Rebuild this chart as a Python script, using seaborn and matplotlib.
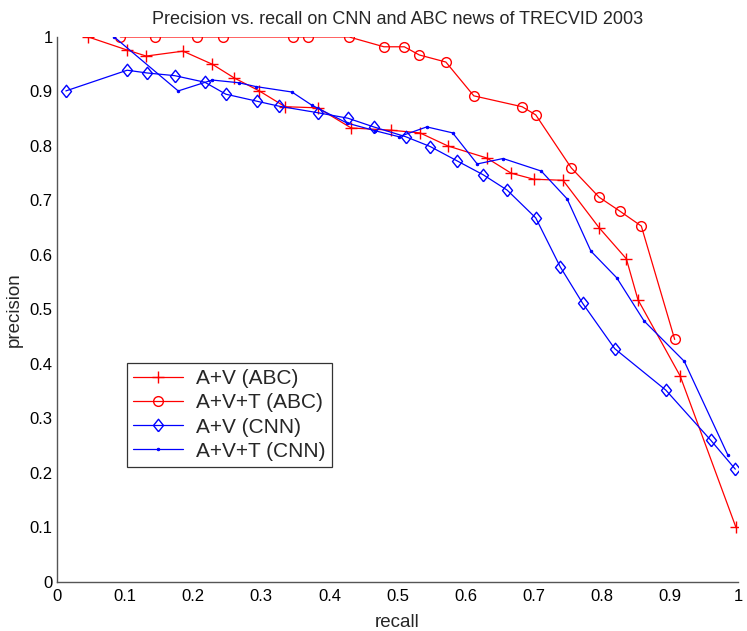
import matplotlib
matplotlib.use("Agg")
import matplotlib.pyplot as plt
import seaborn as sns
import pandas as pd

abc_av_recall = [0.046, 0.103, 0.131, 0.185, 0.228, 0.260, 0.297, 0.335, 0.383, 0.432, 0.490,
                 0.533, 0.574, 0.631, 0.667, 0.700, 0.743, 0.796, 0.836, 0.853, 0.915, 0.997]
abc_av_prec = [1.000, 0.976, 0.965, 0.974, 0.950, 0.925, 0.901, 0.872, 0.870, 0.833, 0.829,
               0.824, 0.800, 0.778, 0.750, 0.739, 0.737, 0.650, 0.593, 0.518, 0.378, 0.100]

abc_avt_recall = [0.093, 0.144, 0.205, 0.244, 0.347, 0.368, 0.429, 0.480, 0.510, 0.532, 0.571,
                  0.612, 0.683, 0.703, 0.755, 0.796, 0.827, 0.858, 0.907]
abc_avt_prec = [1.000, 1.000, 1.000, 1.000, 1.000, 1.000, 1.000, 0.982, 0.982, 0.967, 0.954,
                0.892, 0.872, 0.857, 0.760, 0.706, 0.680, 0.653, 0.445]

cnn_av_recall = [0.013, 0.103, 0.132, 0.173, 0.217, 0.248, 0.294, 0.326, 0.383, 0.427, 0.465,
                 0.512, 0.548, 0.587, 0.626, 0.661, 0.703, 0.739, 0.772, 0.819, 0.894, 0.960, 0.996]
cnn_av_prec = [0.901, 0.939, 0.934, 0.929, 0.917, 0.895, 0.882, 0.873, 0.861, 0.851, 0.835,
               0.817, 0.799, 0.773, 0.747, 0.719, 0.668, 0.578, 0.511, 0.428, 0.352, 0.260, 0.207]

cnn_avt_recall = [0.084, 0.178, 0.228, 0.267, 0.292, 0.345, 0.374, 0.426, 0.467, 0.502, 0.543,
                  0.581, 0.617, 0.655, 0.711, 0.749, 0.784, 0.822, 0.862, 0.921, 0.985]
cnn_avt_prec = [1.000, 0.901, 0.921, 0.916, 0.909, 0.899, 0.875, 0.842, 0.828, 0.817, 0.835,
                0.824, 0.767, 0.777, 0.754, 0.703, 0.607, 0.558, 0.479, 0.405, 0.233]

labels = ["A+V (ABC)", "A+V+T (ABC)", "A+V (CNN)", "A+V+T (CNN)"]
tick_labels = ["0", "0.1", "0.2", "0.3", "0.4", "0.5", "0.6", "0.7", "0.8", "0.9", "1"]

sns.set_style("white")
plt.rcParams["font.family"] = ["Liberation Sans", "DejaVu Sans"]

fig = plt.figure(figsize=(7.47, 6.31), dpi=100)
ax = fig.add_axes([0.0763, 0.0777, 0.9117, 0.8637])

diamond = [(0, -1), (0.8, 0), (0, 1), (-0.8, 0), (0, -1)]

series = [
    (abc_av_recall, abc_av_prec, labels[0], "red", "+", 8, dict(markeredgewidth=1.0)),
    (abc_avt_recall, abc_avt_prec, labels[1], "red", "o", 7, dict(markerfacecolor="none", markeredgewidth=1.0)),
    (cnn_av_recall, cnn_av_prec, labels[2], "blue", diamond, 9, dict(markerfacecolor="none", markeredgewidth=1.0)),
    (cnn_avt_recall, cnn_avt_prec, labels[3], "blue", ".", 3.5, dict()),
]
for xs, ys, lab, col, mk, ms, kw in series:
    df = pd.DataFrame({"recall": xs, "precision": ys})
    sns.lineplot(data=df, x="recall", y="precision", ax=ax, sort=False, estimator=None,
                 color=col, linewidth=0.9, marker=mk, markersize=ms, markeredgecolor=col,
                 label=lab, **kw)

ax.set_xlim(0, 1)
ax.set_ylim(0, 1)
ax.set_xticks([i / 10 for i in range(11)])
ax.set_yticks([i / 10 for i in range(11)])
ax.set_xticklabels(tick_labels)
ax.set_yticklabels(tick_labels)
ax.tick_params(direction="in", length=5, width=0.8, color="#404040", labelsize=12,
               labelcolor="black")
ax.tick_params(axis="x", pad=5)
ax.tick_params(axis="y", pad=3)
for s in ["top", "right"]:
    ax.spines[s].set_visible(False)
for s in ["left", "bottom"]:
    ax.spines[s].set_color("#555555")
    ax.spines[s].set_linewidth(1.0)

ax.set_xlabel("recall", fontsize=13.5, labelpad=7)
ax.set_ylabel("precision", fontsize=13.5, labelpad=5)
ax.set_title("Precision vs. recall on CNN and ABC news of TRECVID 2003", fontsize=13, pad=9)

leg = ax.legend(loc="lower left", bbox_to_anchor=(0.103, 0.211), fontsize=15,
                frameon=True, fancybox=False, edgecolor="black", handlelength=2.4,
                borderpad=0.3, labelspacing=0.25, handletextpad=0.6, borderaxespad=0)
leg.get_frame().set_linewidth(0.9)

fig.savefig("out.png", dpi=100)
